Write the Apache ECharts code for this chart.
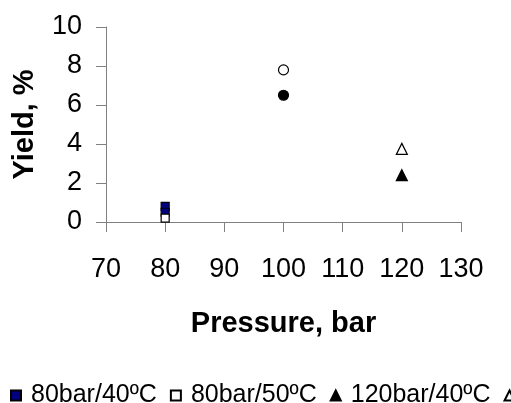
<!DOCTYPE html>
<html>
<head>
<meta charset="utf-8">
<script src="https://cdn.jsdelivr.net/npm/echarts@6/dist/echarts.min.js"></script>
<style>
  html, body { margin: 0; padding: 0; background: #fff; }
  #chart { width: 511px; height: 403px; }
</style>
</head>
<body>
<div id="chart"></div>
<script>
// series names, in legend order
const seriesNames = ['80bar/40ºC', '80bar/50ºC', '120bar/40ºC', '120bar/50ºC', '100bar/40ºC', '100bar/50ºC']
const seriesSymbols = ['rect', 'rect', 'triangle', 'triangle', 'circle', 'circle']
// [pressure, yield] points per series
const p80t40 = [[80, 0.8], [80, 0.5]]
const p80t50 = [[80, 0.2]]
const p120t40 = [[120, 2.4]]
const p120t50 = [[120, 3.75]]
const p100t40 = [[100, 6.5]]
const p100t50 = [[100, 7.8]]

const font = 'Liberation Sans, Arial, sans-serif'
const axisGray = '#808080'

function mk(i, data, fill, size) {
  return {
    name: seriesNames[i],
    type: 'scatter',
    data: data,
    symbol: seriesSymbols[i],
    symbolSize: size,
    itemStyle: { color: fill, borderColor: '#000', borderWidth: 1.2, opacity: 1 },
    emphasis: { disabled: true }
  }
}

const myChart = echarts.init(document.getElementById('chart'))
const option = {
  animation: false,
  textStyle: { fontFamily: font },
  grid: {
    left: 106,
    right: 50,
    top: 27,
    bottom: 181
  },
  legend: {
    left: 10,
    top: 383,
    padding: 0,
    width: 2000,
    itemWidth: 10,
    itemHeight: 10,
    itemGap: 13,
    textStyle: { fontSize: 25, color: '#000', fontFamily: font, padding: [0, 0, 0, 5] },
    data: seriesNames.map(function (n, i) { return { name: n, icon: seriesSymbols[i] } })
  },
  xAxis: {
    type: 'value',
    min: 70,
    max: 130,
    interval: 10,
    name: 'Pressure, bar',
    nameLocation: 'middle',
    nameGap: 87,
    nameTextStyle: { fontSize: 29, fontWeight: 'bold', color: '#000' },
    axisLine: { lineStyle: { color: axisGray } },
    axisTick: { length: 10, lineStyle: { color: axisGray } },
    axisLabel: { fontSize: 27, color: '#000', margin: 34 },
    splitLine: { show: false }
  },
  yAxis: {
    type: 'value',
    min: 0,
    max: 10,
    interval: 2,
    name: 'Yield, %',
    nameLocation: 'middle',
    nameGap: 67,
    nameTextStyle: { fontSize: 29, fontWeight: 'bold', color: '#000' },
    axisLine: { show: true, lineStyle: { color: axisGray } },
    axisTick: { show: true, length: 10, lineStyle: { color: axisGray } },
    axisLabel: { fontSize: 27, color: '#000', margin: 24 },
    splitLine: { show: false }
  },
  series: [
    mk(0, p80t40, '#000080', 8),
    mk(1, p80t50, '#fff', 8),
    mk(2, p120t40, '#000', 11),
    mk(3, p120t50, '#fff', 11),
    mk(4, p100t40, '#000', 10),
    mk(5, p100t50, '#fff', 10)
  ]
}
myChart.setOption(option)
</script>
</body>
</html>
